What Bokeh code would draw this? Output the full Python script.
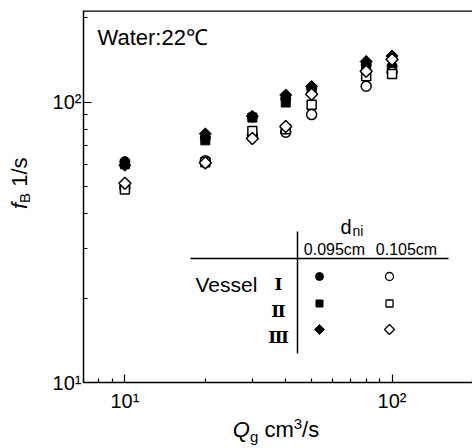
import math
from bokeh.plotting import figure
from bokeh.models import Range1d, Label, Span, FixedTicker, Div
from bokeh.layouts import row, column
from bokeh.embed import file_html
from bokeh.resources import INLINE

# ---- data ----
qg = [10, 20, 30, 40, 50, 80, 100]
fb_v1_095 = [61.3, 74.5, 88.5, 103, 112, 136, 134]     # Vessel I, 0.095cm (filled circle)
fb_v2_095 = [60, 73, 88, 99.6, 111, 135, 131.7]        # Vessel II, 0.095cm (filled square)
fb_v3_095 = [59.5, 77, 89, 106, 113.6, 139.5, 146]     # Vessel III, 0.095cm (filled diamond)
fb_v1_105 = [49.5, 61.8, 76, 78, 90.2, 113.8, 128]     # Vessel I, 0.105cm (open circle)
fb_v2_105 = [48.8, 61, 78.8, 80, 97.8, 123.5, 126]     # Vessel II, 0.105cm (open square)
fb_v3_105 = [51.3, 60.7, 74.1, 81.8, 106.6, 128.8, 141.9]  # Vessel III, 0.105cm (open diamond)

x_lo, x_hi = 7, 200
y_lo, y_hi = 10, 212
major_ticks = [10, 100]
tick_labels = {10: "10\u00b9", 100: "10\u00b2"}
minor_x = [7, 8, 9, 20, 30, 40, 50, 60, 70, 80, 90, 200]
minor_y = [20, 30, 40, 50, 60, 70, 80, 90, 200]

SANS = "Liberation Sans"

# page layout: [y-title div | plot over x-title div]
YDW = 46                 # y-title strip width
PW, PH = 472 - YDW, 416  # plot size
XDH = 448 - PH           # x-title strip height
BL, BT, BB, BR = 37, 10, 34, 0
FW, FH = PW - BL - BR, PH - BT - BB

p = figure(width=PW, height=PH, x_axis_type="log", y_axis_type="log",
           x_range=Range1d(x_lo, x_hi), y_range=Range1d(y_lo, y_hi),
           output_backend="svg", toolbar_location=None,
           min_border_left=BL, min_border_top=BT, min_border_bottom=BB, min_border_right=BR)
p.outline_line_color = None
p.grid.visible = False
p.background_fill_color = "white"
p.border_fill_color = "white"
p.margin = 0

p.xaxis[0].ticker = FixedTicker(ticks=major_ticks, minor_ticks=minor_x)
p.yaxis[0].ticker = FixedTicker(ticks=major_ticks, minor_ticks=minor_y)
for ax in (p.xaxis[0], p.yaxis[0]):
    ax.major_label_overrides = tick_labels
    ax.major_label_text_font = SANS
    ax.major_label_text_font_size = "20px"
    ax.major_label_text_color = "black"
    ax.axis_line_color = "black"
    ax.axis_line_width = 1.5
    ax.major_tick_in = 8
    ax.major_tick_out = 0
    ax.minor_tick_in = 4
    ax.minor_tick_out = 0
    ax.major_tick_line_color = "black"
    ax.minor_tick_line_color = "black"
    ax.major_tick_line_width = 1.2
    ax.minor_tick_line_width = 1.2
p.xaxis.major_label_standoff = 7
p.yaxis.major_label_standoff = 2

p.add_layout(Span(location=y_hi, dimension="width", line_color="black", line_width=2.5))

# ---- data marks ----
p.scatter(qg, fb_v2_095, marker="square", size=9, color="black")
p.scatter(qg, fb_v3_095, marker="square", angle=math.pi / 4, size=8.5, color="black")
p.scatter(qg, fb_v1_095, marker="circle", size=10, color="black")
p.scatter(qg, fb_v1_105, marker="circle", size=10, line_color="black", fill_color="white", line_width=1.5)
p.scatter(qg, fb_v2_105, marker="square", size=9, line_color="black", fill_color="white", line_width=1.5)
p.scatter(qg, fb_v3_105, marker="square", angle=math.pi / 4, size=8.5, line_color="black",
          fill_color="white", line_width=1.5)

# ---- helpers for placing decorations by picture position ----
lx0, lx1 = math.log10(x_lo), math.log10(x_hi)
ly0, ly1 = math.log10(y_lo), math.log10(y_hi)
OX, OY = YDW + BL, BT


def X(px):
    return 10 ** (lx0 + (px - OX) / FW * (lx1 - lx0))


def Y(py):
    return 10 ** (ly1 - (py - OY) / FH * (ly1 - ly0))


def txt(px, py, s, size, align="left", font=SANS, style="normal"):
    p.add_layout(Label(x=X(px), y=Y(py), text=s, text_font=font, text_font_size=f"{size}px",
                       text_align=align, text_baseline="alphabetic", text_font_style=style,
                       text_color="black"))


txt(97, 37, "Water:22\u2103", 22)

# ---- legend table ----
txt(340, 226, "d", 20)
txt(352, 230, "ni", 14)
txt(334, 249, "0.095cm", 16, align="center")
txt(406, 249, "0.105cm", 16, align="center")
p.segment(x0=[X(190), X(297)], y0=[Y(258), Y(231)], x1=[X(448), X(297)], y1=[Y(258), Y(353)],
          line_color="black", line_width=1.5)
txt(195, 284, "Vessel", 21)
rows_y = [276, 303, 329]
for s, ry in zip(["\u2160", "\u2161", "\u2162"], rows_y):
    txt(278, ry + 7, s, 17, align="center", font="DejaVu Serif", style="bold")
p.scatter([X(319)], [Y(rows_y[0])], marker="circle", size=8, color="black")
p.scatter([X(319)], [Y(rows_y[1])], marker="square", size=7, color="black")
p.scatter([X(319)], [Y(rows_y[2])], marker="square", angle=math.pi / 4, size=7, color="black")
p.scatter([X(389)], [Y(rows_y[0])], marker="circle", size=8, line_color="black", fill_color="white", line_width=1.3)
p.scatter([X(389)], [Y(rows_y[1])], marker="square", size=7, line_color="black", fill_color="white", line_width=1.3)
p.scatter([X(389)], [Y(rows_y[2])], marker="square", angle=math.pi / 4, size=7, line_color="black",
          fill_color="white", line_width=1.3)

# ---- axis titles (real HTML text) ----
font_css = "font-family:'Liberation Sans',Arial,sans-serif; font-size:22px; color:black; line-height:1; white-space:nowrap;"
small = "font-size:15px; line-height:0;"
x_title = Div(width=PW, height=XDH, margin=0,
              text=(f'<div style="{font_css} width:200px; margin-left:{276 - YDW - 100}px; margin-top:3px; text-align:center;">'
                    f'<i>Q</i><sub style="{small}">g</sub> cm<sup style="{small}">3</sup>/s</div>'))
y_title = Div(width=YDW, height=448, margin=0,
              text=(f'<div style="{font_css} width:22px; height:120px; margin-left:9px; margin-top:{183 - 60}px; '
                    f'writing-mode:vertical-rl; transform:rotate(180deg); text-align:center;">'
                    f'<i>f</i><sub style="{small}">B</sub> 1/s</div>'))

layout = row(y_title, column(p, x_title, spacing=0), spacing=0)
open("out.html", "w").write(file_html(layout, INLINE))
